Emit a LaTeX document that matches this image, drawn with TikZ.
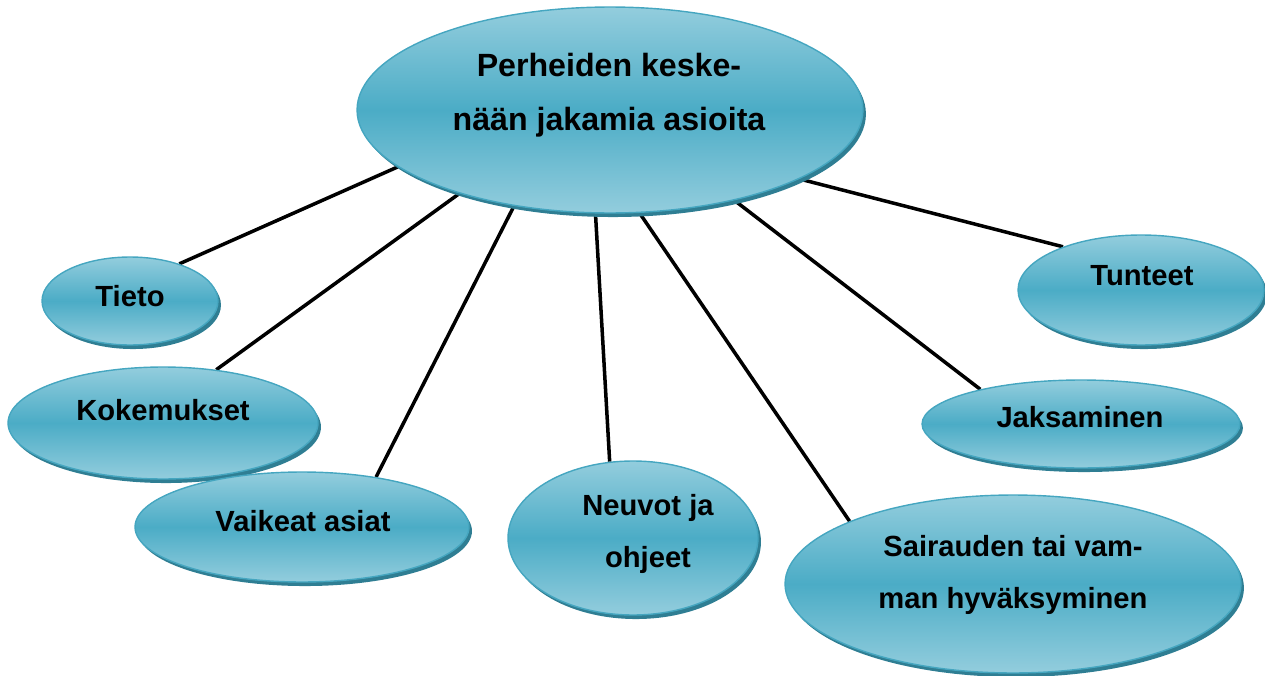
\documentclass[tikz,border=0pt]{standalone}
\usepackage{fontspec}
\setmainfont{Liberation Sans}
\usepackage{tikz}
\usetikzlibrary{shapes.geometric, shadows, backgrounds}
\definecolor{aqua}{HTML}{4BACC6}
\definecolor{aqualight}{HTML}{93CDDD}
\definecolor{aquadark}{HTML}{2F7E93}
\definecolor{aquaedge}{HTML}{45A6C0}

\begin{document}
\begin{tikzpicture}[x=0.02cm, y=-0.02cm, thick,
  main/.style = {draw=aquaedge, line width=0.8pt, ellipse, inner sep=0pt, top color=aqualight, bottom color=aqualight, middle color=aqua, drop shadow={shadow xshift=1.7pt, shadow yshift=-2.3pt, fill=aquadark, opacity=1}},
  lbl/.style = {font=\bfseries\fontsize{16.6}{30}\selectfont, align=center, inner sep=0pt},
  big/.style = {lbl, font=\bfseries\fontsize{18.3}{31}\selectfont},
  link/.style = {line width=2pt}]
\useasboundingbox (0,0) rectangle (1265,676);
\node[main, minimum width=10.12cm, minimum height=4.12cm] (c) at (610,110) {};
\node[main, minimum width=3.52cm, minimum height=1.76cm] (1) at (130,301) {};
\node[main, minimum width=6.2cm, minimum height=2.24cm] (2) at (163,423) {};
\node[main, minimum width=6.68cm, minimum height=2.2cm] (3) at (302,527) {};
\node[main, minimum width=5cm, minimum height=3.08cm] (4) at (633,538) {};
\node[main, minimum width=9.12cm, minimum height=3.56cm] (5) at (1013,584) {};
\node[main, minimum width=6.36cm, minimum height=1.76cm] (6) at (1081,424) {};
\node[main, minimum width=4.92cm, minimum height=2.2cm] (7) at (1141,290) {};
\node[big] (t0) at (609,95) {Perheiden keske-\\nään jakamia asioita};
\node[lbl] (t1) at (130,296) {Tieto};
\node[lbl] (t2) at (163,410) {Kokemukset};
\node[lbl] (t3) at (303,521) {Vaikeat asiat};
\node[lbl] (t4) at (648,534) {Neuvot ja\\ohjeet};
\node[lbl] (t5) at (1013,575) {Sairauden tai vam-\\man hyväksyminen};
\node[lbl] (t6) at (1080,417) {Jaksaminen};
\node[lbl] (t7) at (1142,276) {Tunteet};
\begin{scope}[on background layer]
\draw[link] (c.195.7) -- (1.37.2);
\draw[link] (c.209.2) -- (2.45.5);
\draw[link] (c.225.8) -- (3.34.6);
\draw[link] (c.262.8) -- (4.107);
\draw[link] (c.286.2) -- (5.159.7);
\draw[link] (c.324.7) -- (6.161.7);
\draw[link] (c.340.5) -- (7.151.4);
\end{scope}
\end{tikzpicture}
\end{document}
